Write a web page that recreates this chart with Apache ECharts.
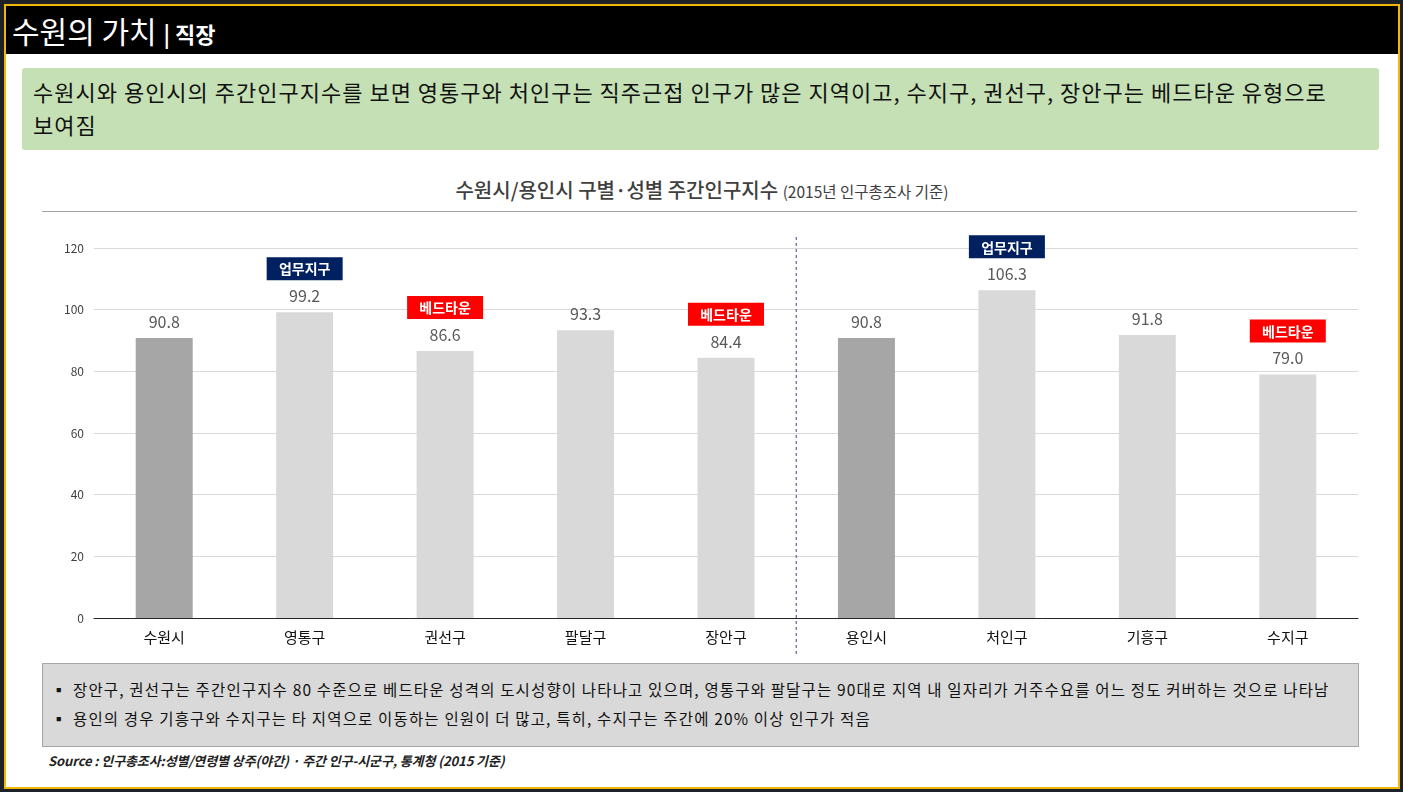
<!DOCTYPE html>
<html><head><meta charset="utf-8">
<script src="https://cdn.jsdelivr.net/npm/echarts@6/dist/echarts.min.js"></script>
<style>
html,body{margin:0;padding:0;width:1403px;height:792px;background:#1e2128;overflow:hidden;font-family:"Noto Sans CJK KR","Noto Sans",sans-serif;}
#frame{position:absolute;left:4px;top:4px;width:1392px;height:781px;border:2px solid #f2b705;background:#fff;}
#header{position:absolute;left:0;top:0;width:1392px;height:48px;background:#000;color:#fff;}
#header .t{position:absolute;left:6px;top:2px;font-size:30px;letter-spacing:0px;white-space:nowrap;}
#header .t b{font-size:22px;font-weight:700;}
#green{position:absolute;left:16px;top:62px;width:1357px;height:82px;background:#c5e0b4;border-radius:3px;}
#green div{position:absolute;left:11px;top:7px;font-size:22px;line-height:33px;color:#111;letter-spacing:1.0px;white-space:nowrap;}
#ctitle{position:absolute;left:0;width:1392px;top:169px;text-align:center;color:#404040;font-size:20px;font-weight:500;letter-spacing:0px;white-space:nowrap;}
#ctitle span{font-size:15.5px;font-weight:400;}
#tline{position:absolute;left:36px;top:205px;width:1315px;height:1px;background:#a6a6a6;}
#chart{position:absolute;left:-6px;top:154px;width:1403px;height:510px;}
#note{position:absolute;left:36px;top:657px;width:1315px;height:82px;background:#d9d9d9;border:1px solid #a6a6a6;}
#note div{position:absolute;left:8px;font-size:15.5px;color:#111;letter-spacing:1.15px;white-space:nowrap;}
#note div i{font-style:normal;display:inline-block;width:22px;letter-spacing:0;}
#src{position:absolute;left:42px;top:745px;font-size:13px;font-style:italic;font-weight:700;color:#222;letter-spacing:-0.1px;white-space:nowrap;}
</style></head>
<body>
<div id="frame">
  <div id="header"><div class="t">수원의 가치 <b>| 직장</b></div></div>
  <div id="green"><div>수원시와 용인시의 주간인구지수를 보면 영통구와 처인구는 직주근접 인구가 많은 지역이고, 수지구, 권선구, 장안구는 베드타운 유형으로<br>보여짐</div></div>
  <div id="ctitle">수원시/용인시 구별·성별 주간인구지수 <span>(2015년 인구총조사 기준)</span></div>
  <div id="tline"></div>
  <div id="chart"></div>
  <div id="note">
    <div style="top:14px"><i>▪</i>장안구, 권선구는 주간인구지수 80 수준으로 베드타운 성격의 도시성향이 나타나고 있으며, 영통구와 팔달구는 90대로 지역 내 일자리가 거주수요를 어느 정도 커버하는 것으로 나타남</div>
    <div style="top:43px"><i>▪</i>용인의 경우 기흥구와 수지구는 타 지역으로 이동하는 인원이 더 많고, 특히, 수지구는 주간에 20% 이상 인구가 적음</div>
  </div>
  <div id="src">Source : 인구총조사:성별/연령별 상주(야간) · 주간 인구-시군구, 통계청 (2015 기준)</div>
</div>
<script>
const categories = ['수원시','영통구','권선구','팔달구','장안구','용인시','처인구','기흥구','수지구'];
const values = [90.8, 99.2, 86.6, 93.3, 84.4, 90.8, 106.3, 91.8, 79.0];
const badges = ['', '업무지구', '베드타운', '', '베드타운', '', '업무지구', '', '베드타운'];
const isCity = [true, false, false, false, false, true, false, false, false];
const yTicks = [0, 20, 40, 60, 80, 100, 120];

const chart = echarts.init(document.getElementById('chart'));
const data = values.map((v, i) => ({
  value: v,
  itemStyle: { color: isCity[i] ? '#a6a6a6' : '#d9d9d9' }
}));
const badgeStyle = (bg) => ({
  backgroundColor: bg, color: '#fff', fontSize: 14, fontWeight: 'bold', width: 62, align: 'center',
  padding: [5, 7, 4, 7], lineHeight: 17, fontFamily: 'Noto Sans CJK KR'
});
chart.setOption({
  animation: false,
  grid: { left: 94, right: 45, top: 88, bottom: 52 },
  xAxis: {
    type: 'category', data: categories,
    axisLine: { lineStyle: { color: '#262626', width: 1 } },
    axisTick: { show: false },
    axisLabel: { color: '#111', fontSize: 15, margin: 12, fontFamily: 'Noto Sans CJK KR' }
  },
  yAxis: {
    type: 'value', min: yTicks[0], max: yTicks[yTicks.length - 1], interval: 20,
    axisLine: { show: false }, axisTick: { show: false },
    axisLabel: { color: '#404040', fontSize: 12, margin: 10, fontFamily: 'Noto Sans CJK KR' },
    splitLine: { lineStyle: { color: '#d9d9d9' } }
  },
  series: [{
    type: 'bar', data: data, barWidth: 57,
    label: {
      show: true, position: 'top', distance: 6,
      formatter: p => {
        const b = badges[p.dataIndex];
        const v = values[p.dataIndex].toFixed(1);
        if (b === '업무지구') return '{navy|' + b + '}\n{gap|}\n{val|' + v + '}';
        if (b === '베드타운') return '{red|' + b + '}\n{gap|}\n{val|' + v + '}';
        return '{val|' + v + '}';
      },
      rich: {
        val: { color: '#595959', fontSize: 16, fontFamily: 'Noto Sans CJK KR', lineHeight: 20 },
        gap: { height: 9, lineHeight: 9, fontSize: 1 },
        navy: badgeStyle('#002060'),
        red: badgeStyle('#ff0000')
      }
    }
  }]
});
// separator between 수원 and 용인 groups
const x4 = chart.convertToPixel({ xAxisIndex: 0 }, categories[4]);
const x5 = chart.convertToPixel({ xAxisIndex: 0 }, categories[5]);
const yTop = chart.convertToPixel({ yAxisIndex: 0 }, yTicks[yTicks.length - 1]);
const yBot = chart.convertToPixel({ yAxisIndex: 0 }, yTicks[0]);
const xm = (x4 + x5) / 2;
chart.setOption({
  graphic: [{
    type: 'line', shape: { x1: xm, y1: yTop - 11, x2: xm, y2: yBot + 36 },
    style: { stroke: '#3a4a78', lineWidth: 1, lineDash: [3, 3] }, z: 10
  }]
});
</script>
</body></html>
